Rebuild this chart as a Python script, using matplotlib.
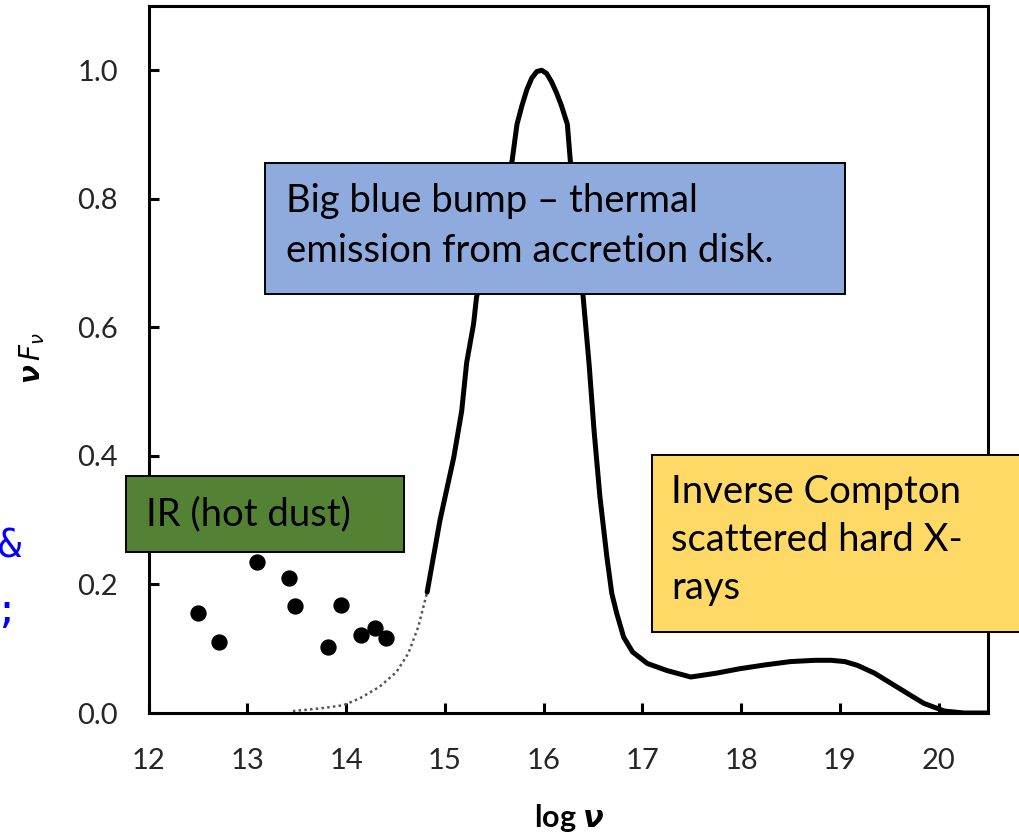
import numpy as np
import matplotlib
matplotlib.use('Agg')
import matplotlib.pyplot as plt
import matplotlib.ticker as mticker
from matplotlib.patches import Rectangle

plt.rcParams['font.family'] = ['Lato', 'DejaVu Sans']
plt.rcParams['mathtext.fontset'] = 'dejavusans'

# IR points (hot dust)
ir_x = [12.50, 12.71, 13.10, 13.42, 13.48, 13.82, 13.95, 14.15, 14.29, 14.40]
ir_y = [0.156, 0.110, 0.235, 0.210, 0.167, 0.103, 0.168, 0.122, 0.133, 0.116]

# dotted extrapolation below the bump
dot_x = [13.46, 13.73, 13.97, 14.14, 14.34, 14.51, 14.63, 14.73, 14.79, 14.82]
dot_y = [0.003, 0.007, 0.012, 0.023, 0.041, 0.064, 0.093, 0.134, 0.170, 0.188]

# main spectrum
sed_x = [14.82, 14.95, 15.09, 15.17, 15.22, 15.29, 15.32, 15.50, 15.68, 15.73,
         15.78, 15.83, 15.88, 15.93, 15.98, 16.03, 16.08, 16.13, 16.18, 16.24,
         16.27, 16.40, 16.46, 16.51, 16.57, 16.64, 16.69, 16.74, 16.81, 16.90,
         17.05, 17.25, 17.49, 17.75, 17.99, 18.25, 18.50, 18.75, 18.91, 19.05,
         19.18, 19.35, 19.52, 19.70, 19.85, 20.06, 20.26, 20.50]
sed_y = [0.188, 0.300, 0.398, 0.470, 0.545, 0.605, 0.647, 0.760, 0.859, 0.916,
         0.945, 0.970, 0.988, 0.998, 1.000, 0.995, 0.982, 0.965, 0.945, 0.916,
         0.859, 0.647, 0.543, 0.440, 0.336, 0.243, 0.186, 0.155, 0.118, 0.095,
         0.077, 0.066, 0.056, 0.062, 0.069, 0.075, 0.080, 0.082, 0.082, 0.080,
         0.074, 0.062, 0.046, 0.029, 0.015, 0.003, 0.000, 0.000]

x_ticks = [12, 13, 14, 15, 16, 17, 18, 19, 20]
y_ticks = [0.0, 0.2, 0.4, 0.6, 0.8, 1.0]

W, H = 1020, 839
fig = plt.figure(figsize=(10.2, 8.39), dpi=100)
ax = fig.add_axes([148.7 / W, 1 - 713 / H, (988 - 148.7) / W, (713 - 6) / H])

ax.plot(dot_x, dot_y, color='#555555', lw=1.8, ls=(0, (1, 1.3)))
ax.plot(sed_x, sed_y, color='black', lw=3.6, solid_capstyle='round',
        solid_joinstyle='round')
ax.scatter(ir_x, ir_y, s=115, color='black', zorder=3)

ax.set_xlim(12, 20.5)
ax.set_ylim(0, 1.1)
ax.xaxis.set_major_locator(mticker.FixedLocator(x_ticks))
ax.yaxis.set_major_locator(mticker.FixedLocator(y_ticks))
ax.yaxis.set_major_formatter(mticker.FormatStrFormatter('%.1f'))
for s in ax.spines.values():
    s.set_linewidth(2.2)
ax.tick_params(direction='in', length=7, width=2.2, labelsize=21,
               labelcolor='#262626')
ax.tick_params(axis='y', pad=22)
ax.tick_params(axis='x', pad=25)

def px(x, y):
    return x / W, 1 - y / H

def box(x0, y0, x1, y1, color):
    fx, fy = px(x0, y1)
    r = Rectangle((fx, fy), (x1 - x0) / W, (y1 - y0) / H, transform=fig.transFigure,
                  facecolor=color, edgecolor='black', lw=1.4, zorder=5)
    fig.add_artist(r)

box(265, 163, 845, 294, '#8FAADC')
box(126, 476, 404, 552, '#548235')
box(652, 455, 1030, 632, '#FFD966')

def label(x, y, s, **kw):
    fx, fy = px(x, y)
    fig.text(fx, fy, s, ha='left', va='center', fontsize=27.5, color='black', zorder=6, **kw)

label(286, 201, 'Big blue bump \u2013 thermal')
label(286, 251, 'emission from accretion disk.')
label(146, 514, 'IR (hot dust)')
label(671, 492, 'Inverse Compton')
label(671, 540, 'scattered hard X-')
label(671, 588, 'rays')

fx, fy = px(569, 818)
fig.text(fx, fy, r'log $\boldsymbol{\nu}$', ha='center', va='center', fontsize=22,
         fontweight='bold')
fx, fy = px(32, 358)
fig.text(fx, fy, r'$\boldsymbol{\nu\,F_\nu}$', ha='center', va='center', fontsize=20,
         rotation=90)

# clipped slide text at the left edge
fx, fy = px(21, 546)
fig.text(fx, fy, '&', ha='right', va='center', fontsize=28, color='#0000FF',
         family='DejaVu Sans Mono')
fx, fy = px(19, 612)
fig.text(fx, fy, ');', ha='right', va='center', fontsize=28, color='#0000FF',
         family='DejaVu Sans Mono')

fig.savefig('out.png', dpi=100)
